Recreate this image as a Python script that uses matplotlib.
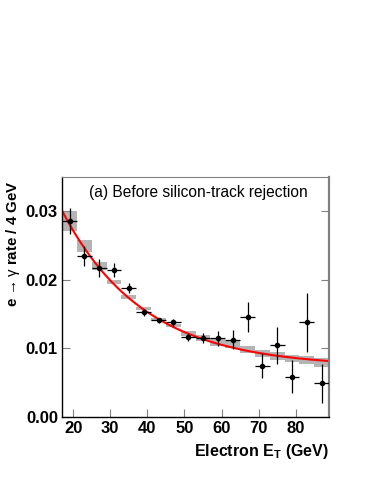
import numpy as np
import matplotlib
matplotlib.use("Agg")
import matplotlib.pyplot as plt

plt.rcParams['font.family'] = ['Liberation Sans', 'DejaVu Sans']
plt.rcParams['mathtext.fontset'] = 'custom'
plt.rcParams['mathtext.rm'] = 'Liberation Sans'
plt.rcParams['mathtext.it'] = 'Liberation Sans'

# electron ET bin centres (4 GeV bins)
et = [19, 23, 27, 31, 35, 39, 43, 47, 51, 55, 59, 63, 67, 71, 75, 79, 83, 87]
# measured e->gamma rate and errors
rate = [0.0286, 0.0235, 0.0218, 0.0214, 0.0188, 0.0153, 0.0141, 0.0138, 0.0117,
        0.0115, 0.0115, 0.0113, 0.0146, 0.0075, 0.0105, 0.0059, 0.0138, 0.0049]
rate_err = [0.0019, 0.0015, 0.0013, 0.0010, 0.0007, 0.0005, 0.0004, 0.0005, 0.0006,
            0.0007, 0.0011, 0.0014, 0.0022, 0.0018, 0.0027, 0.0024, 0.0043, 0.0029]
# model prediction per bin (grey boxes) and its half-height
model = [0.0286, 0.0250, 0.0220, 0.0197, 0.01755, 0.01585, 0.01425, 0.01335, 0.0122,
         0.0115, 0.0109, 0.0106, 0.0099, 0.0093, 0.0089, 0.0086, 0.0083, 0.0080]
model_err = [0.0014, 0.0009, 0.0006, 0.0003, 0.0003, 0.00025, 0.00025, 0.00025, 0.0004,
             0.0004, 0.0005, 0.0005, 0.0005, 0.0005, 0.00055, 0.0005, 0.0006, 0.00065]
# fitted curve: a*exp(-(ET-17)/b) + c
fit_a, fit_b, fit_c = 0.0228, 22.0, 0.0073

fig = plt.figure(figsize=(3.74, 4.84), dpi=100)
ax = fig.add_axes([0.166, 0.1384, 0.714, 0.4956])

et = np.array(et)
model = np.array(model)
model_err = np.array(model_err)
ax.bar(et, 2 * model_err, width=4, bottom=model - model_err, color='#b4b4b4',
       edgecolor='none', zorder=1)

xs = np.linspace(17, 89, 200)
ax.plot(xs, fit_a * np.exp(-(xs - 17) / fit_b) + fit_c, color='#ff0000', lw=1.5, zorder=2)

ax.errorbar(et, rate, yerr=rate_err, xerr=2, fmt='o', color='black', ms=3,
            elinewidth=0.9, capsize=0, zorder=3)

ax.set_xlim(17, 89)
ax.set_ylim(0, 0.035)
ax.set_xticks([20, 30, 40, 50, 60, 70, 80])
ax.set_yticks([0.00, 0.01, 0.02, 0.03])
ax.set_yticklabels(['0.00', '0.01', '0.02', '0.03'])
ax.tick_params(direction='in', length=6, width=0.8, color='#808080', labelsize=12,
               right=True, top=False, pad=3)
for lab in ax.get_xticklabels() + ax.get_yticklabels():
    lab.set_fontweight('bold')

for s in ['left', 'bottom']:
    ax.spines[s].set_color('black')
    ax.spines[s].set_linewidth(1.0)
ax.spines['top'].set_color('#808080')
ax.spines['right'].set_color('#808080')
ax.spines['right'].set_linewidth(1.6)

ax.set_xlabel(r'Electron E$_\mathregular{T}$ (GeV)', fontsize=11.5, fontweight='bold',
              loc='right', labelpad=4)
ax.set_ylabel(r'e$\,\rightarrow\gamma$ rate / 4 GeV', fontsize=10.8, fontweight='bold',
              loc='top')
ax.yaxis.set_label_coords(-0.15, 0.985)

ax.text(0.10, 0.935, '(a) Before silicon-track rejection', transform=ax.transAxes,
        fontsize=11.2, va='center', ha='left')

fig.savefig('out.png', dpi=100)
